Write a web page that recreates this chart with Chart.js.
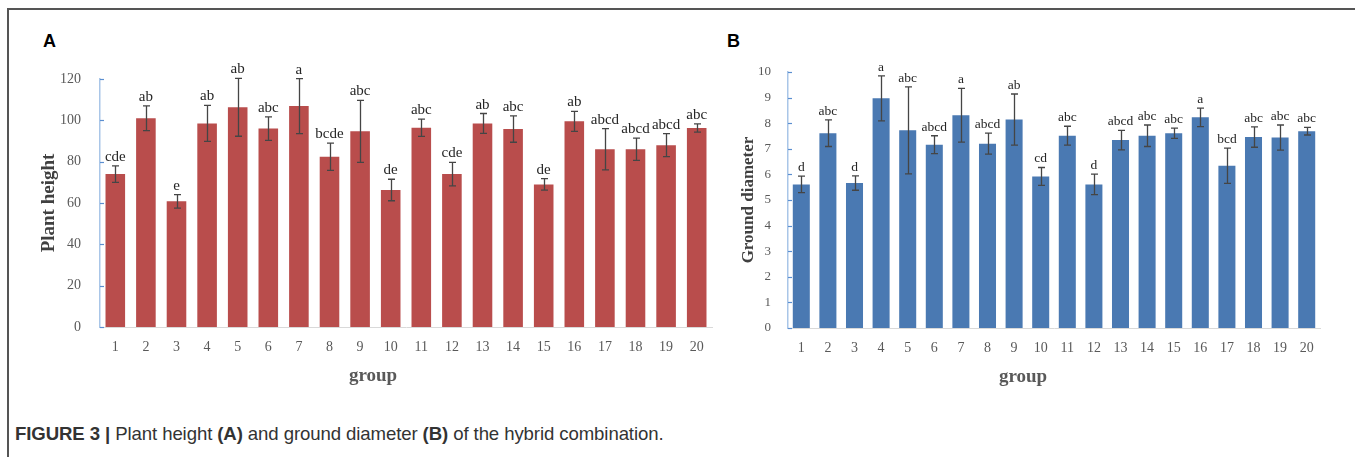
<!DOCTYPE html>
<html>
<head>
<meta charset="utf-8">
<script src="https://cdn.jsdelivr.net/npm/chart.js@4.4.1/dist/chart.umd.min.js"></script>
<style>
  body { margin: 0; background: #fff; width: 1355px; height: 457px; overflow: hidden; position: relative; }
  #frame { position: absolute; left: 7px; top: 8px; width: 1360px; height: 460px;
           border-left: 2px solid #555; border-top: 2px solid #555; }
  .panel { position: absolute; font: bold 18px "Liberation Sans", Arial, sans-serif; color: #000; }
  .xtitle { position: absolute; font: bold 19px "Liberation Serif", "Times New Roman", serif; color: #595959;
            transform: translateX(-50%); }
  .box { position: absolute; }
  #caption { position: absolute; left: 15px; top: 423px; font: 18.6px "Liberation Sans", Arial, sans-serif;
             color: #333; white-space: nowrap; letter-spacing: -0.1px; }
  #caption b { font-weight: bold; }
</style>
</head>
<body>
<div id="frame"></div>
<div class="panel" style="left:43px;top:31px">A</div>
<div class="panel" style="left:727px;top:31px">B</div>

<div class="box" style="left:10px;top:10px;width:705px;height:365px"><canvas id="chartA"></canvas></div>
<div class="box" style="left:720px;top:10px;width:620px;height:366px"><canvas id="chartB"></canvas></div>

<div class="xtitle" style="left:373px;top:364px">group</div>
<div class="xtitle" style="left:1023px;top:365px">group</div>

<div id="caption"><b>FIGURE 3 |</b> Plant height <b>(A)</b> and ground diameter <b>(B)</b> of the hybrid combination.</div>

<script>
// values
const groups = ['1', '2', '3', '4', '5', '6', '7', '8', '9', '10',
                '11', '12', '13', '14', '15', '16', '17', '18', '19', '20'];

const heightMean = [74, 101, 60.8, 98.5, 106.3, 96, 106.9, 82.4, 94.7, 66.3,
                    96.4, 74, 98.5, 95.8, 69, 99.5, 86, 86, 88, 96.3];
const heightErr = [4, 6, 3.3, 8.7, 14, 5.7, 13.3, 6.6, 15, 5.2,
                   4.2, 5.7, 4.8, 6.4, 2.8, 4.8, 10, 5.4, 5.6, 2];
const heightLetters = ['cde', 'ab', 'e', 'ab', 'ab', 'abc', 'a', 'bcde', 'abc', 'de',
                       'abc', 'cde', 'ab', 'abc', 'de', 'ab', 'abcd', 'abcd', 'abcd', 'abc'];
const heightTicks = [0, 20, 40, 60, 80, 100, 120];

const diamMean = [5.61, 7.61, 5.66, 8.97, 7.72, 7.16, 8.31, 7.2, 8.14, 5.92,
                  7.51, 5.61, 7.34, 7.51, 7.61, 8.23, 6.34, 7.46, 7.44, 7.69];
const diamErr = [0.32, 0.52, 0.28, 0.88, 1.7, 0.35, 1.05, 0.41, 1.0, 0.35,
                 0.37, 0.4, 0.38, 0.42, 0.2, 0.36, 0.69, 0.4, 0.49, 0.15];
const diamLetters = ['d', 'abc', 'd', 'a', 'abc', 'abcd', 'a', 'abcd', 'ab', 'cd',
                     'abc', 'd', 'abcd', 'abc', 'abc', 'a', 'bcd', 'abc', 'abc', 'abc'];
const diamTicks = [0, 1, 2, 3, 4, 5, 6, 7, 8, 9, 10];

const serif = '"Liberation Serif", "Times New Roman", serif';

// error bars, significance letters and the short inward ticks on the y axis
const errorBars = {
  id: 'errorBars',
  afterDatasetsDraw(chart) {
    const ds = chart.data.datasets[0];
    const meta = chart.getDatasetMeta(0);
    const y = chart.scales.y;
    const ctx = chart.ctx;
    ctx.save();
    ctx.strokeStyle = '#454545';
    ctx.lineWidth = 1.3;
    ctx.fillStyle = '#262626';
    ctx.font = ds.letterSize + 'px ' + serif;
    ctx.textAlign = 'center';
    ctx.textBaseline = 'alphabetic';
    meta.data.forEach((bar, i) => {
      const x = Math.round(bar.x) + 0.5;
      const hi = y.getPixelForValue(ds.data[i] + ds.errors[i]);
      const lo = y.getPixelForValue(ds.data[i] - ds.errors[i]);
      ctx.beginPath();
      ctx.moveTo(x, hi); ctx.lineTo(x, lo);
      ctx.moveTo(x - 3.5, hi); ctx.lineTo(x + 3.5, hi);
      ctx.moveTo(x - 3.5, lo); ctx.lineTo(x + 3.5, lo);
      ctx.stroke();
      ctx.fillText(ds.letters[i], bar.x, hi - 5);
    });
    ctx.strokeStyle = '#5b8fd0';
    ctx.lineWidth = 1.2;
    const left = chart.chartArea.left;
    y.ticks.forEach((t, i) => {
      const py = Math.round(y.getPixelForTick(i)) + 0.5;
      ctx.beginPath();
      ctx.moveTo(left, py); ctx.lineTo(left + 4, py);
      ctx.stroke();
    });
    ctx.restore();
  }
};

function makeChart(id, cfg) {
  return new Chart(document.getElementById(id), {
    type: 'bar',
    data: {
      labels: groups,
      datasets: [{
        data: cfg.values,
        errors: cfg.errors,
        letters: cfg.letters,
        letterSize: cfg.letterSize,
        backgroundColor: cfg.color,
        borderWidth: 0,
        barPercentage: 0.64,
        categoryPercentage: 1
      }]
    },
    options: {
      responsive: true,
      maintainAspectRatio: false,
      animation: false,
      layout: { padding: { top: cfg.padTop, right: cfg.padRight, left: 0, bottom: 0 } },
      plugins: { legend: { display: false }, tooltip: { enabled: false } },
      scales: {
        x: {
          grid: { display: false },
          border: { color: '#d9d9d9', width: 1 },
          ticks: { color: '#595959', font: { family: serif, size: 14 }, padding: 4, maxRotation: 0, autoSkip: false },
          afterFit(scale) { scale.height = 48; }
        },
        y: {
          min: 0,
          max: cfg.ticks[cfg.ticks.length - 1],
          afterBuildTicks(scale) { scale.ticks = cfg.ticks.map(v => ({ value: v })); },
          grid: { display: false },
          border: { color: '#a9c6e8', width: 1.5 },
          ticks: { color: '#595959', font: { family: serif, size: cfg.tickSize }, padding: cfg.tickPad },
          title: {
            display: true,
            text: cfg.title,
            color: '#404040',
            font: { family: serif, size: cfg.titleSize, weight: 'bold' },
            padding: { top: cfg.titlePad, bottom: 0 }
          },
          afterFit(scale) { scale.width = cfg.axisWidth; }
        }
      }
    },
    plugins: [errorBars]
  });
}

makeChart('chartA', {
  values: heightMean, errors: heightErr, letters: heightLetters, ticks: heightTicks,
  color: '#b94d4c', title: 'Plant height', titleSize: 19, titlePad: 28,
  tickSize: 14, tickPad: 11, letterSize: 15,
  axisWidth: 90, padTop: 69, padRight: 3
});

makeChart('chartB', {
  values: diamMean, errors: diamErr, letters: diamLetters, ticks: diamTicks,
  color: '#4a79b2', title: 'Ground diameter', titleSize: 17, titlePad: 18,
  tickSize: 13, tickPad: 9, letterSize: 13.5,
  axisWidth: 68, padTop: 62, padRight: 20
});
</script>
</body>
</html>
